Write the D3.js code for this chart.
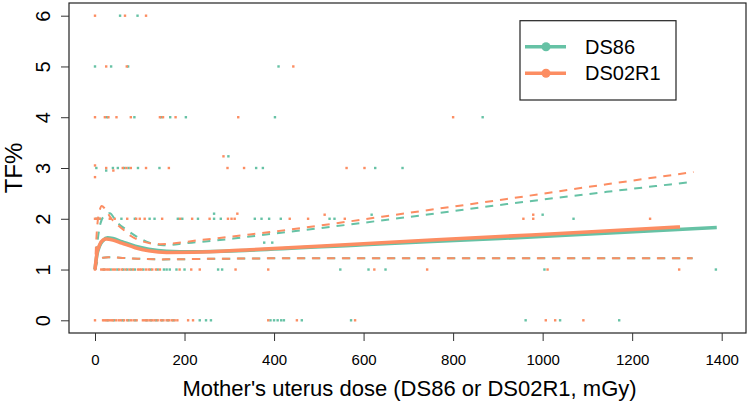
<!DOCTYPE html>
<html>
<head>
<meta charset="utf-8">
<script src="https://cdn.jsdelivr.net/npm/d3@7"></script>
<style>
  body { margin: 0; background: #fff; }
  text { font-family: "Liberation Sans", Arial, sans-serif; fill: #000; }
</style>
</head>
<body>
<svg width="749" height="403"></svg>
<script>
const seriesNames = ['DS86', 'DS02R1'];
const seriesColors = ['#66c2a5', '#fc8d62'];
const xTicks = [0, 200, 400, 600, 800, 1000, 1200, 1400];
const yTicks = [0, 1, 2, 3, 4, 5, 6];

// observed points [dose mGy, TF%]
const ds86Points = [
  [56, 6], [95, 6],
  [0, 5], [36, 5], [74, 5], [410, 5],
  [27, 4], [88, 4], [148, 4], [168, 4], [203, 4], [402, 4], [866, 4],
  [3, 3], [25, 2.95], [40, 3], [51, 3], [65, 3], [75, 3], [96, 3], [144, 3], [360, 3], [375, 3], [626, 3], [687, 3], [298, 3.23],
  [3, 2], [10, 2], [35, 2], [59, 2], [89, 2], [122, 2], [133, 2], [185, 2], [195, 2], [230, 2], [266, 2.1], [266, 2], [281, 2],
  [357, 2], [372, 2], [389, 2], [415, 2], [524, 2], [535, 2], [618, 2.08], [1000, 2.08], [1069, 2],
  [378, 1.53], [396, 1.53],
  [20, 1], [35, 1], [50, 1], [63, 1], [72, 1], [81, 1], [89, 1], [108, 1], [124, 1], [140, 1], [154, 1], [160, 1], [167, 1],
  [182, 1], [200, 1], [275, 1], [284, 1], [548, 1], [611, 1], [649, 1], [1004, 1], [1387, 1],
  [28, 0], [42, 0], [62, 0], [75, 0], [90, 0], [115, 0], [125, 0], [137, 0], [150, 0], [163, 0], [175, 0], [234, 0], [248, 0],
  [259, 0], [392, 0], [400, 0], [408, 0], [416, 0], [422, 0], [462, 0], [572, 0], [962, 0], [1039, 0], [1171, 0]
];
const ds02Points = [
  [0, 6], [67, 6], [114, 6],
  [25, 5], [71, 5], [443, 5],
  [0, 4], [22, 4], [30, 4], [48, 4], [80, 4], [145, 4], [152, 4], [180, 4], [320, 4], [800, 4],
  [0, 3.05], [0, 2.82], [25, 3], [41, 2.95], [62, 3], [70, 3], [80, 3], [114, 3], [165, 3], [296, 3], [333, 3], [562, 3], [602, 3], [287, 3.23],
  [0, 2], [5, 2], [12, 2], [33, 2], [44, 2], [72, 2], [92, 2], [100, 2], [111, 2], [150, 2], [190, 2], [217, 2], [256, 2], [297, 2],
  [305, 2], [312, 2], [318, 2.1], [435, 2], [476, 2], [513, 2.08], [558, 2], [957, 2], [979, 2.08], [979, 2], [1240, 2],
  [0, 1], [14, 1], [18, 1], [22, 1], [27, 1], [31, 1], [40, 1], [45, 1], [54, 1], [60, 1], [68, 1], [77, 1], [85, 1], [96, 1],
  [100, 1], [104, 1], [114, 1], [120, 1], [128, 1], [136, 1], [145, 1], [189, 1], [215, 1], [234, 1], [314, 1], [387, 1],
  [624, 1], [742, 1], [1011, 1], [1305, 1],
  [0, 0], [18, 0], [22, 0], [26, 0], [31, 0], [36, 0], [40, 0], [47, 0], [53, 0], [58, 0], [65, 0], [72, 0], [80, 0], [86, 0],
  [93, 0], [107, 0], [112, 0], [117, 0], [122, 0], [128, 0], [133, 0], [140, 0], [147, 0], [153, 0], [160, 0], [166, 0],
  [172, 0], [178, 0], [184, 0], [208, 0], [219, 0], [387, 0], [451, 0], [581, 0], [1007, 0], [1028, 0], [1091, 0]
];

// fitted curves and bands [dose, TF%]
const ds86Fit = [[0, 1.0], [4, 1.27], [10, 1.46], [18, 1.57], [28, 1.625], [40, 1.61], [60, 1.55], [90, 1.46], [120, 1.40],
  [160, 1.36], [220, 1.35], [346, 1.38], [600, 1.49], [905, 1.61], [1150, 1.72], [1389, 1.83]];
const ds02Fit = [[0, 1.0], [4, 1.3], [10, 1.48], [18, 1.58], [25, 1.60], [40, 1.58], [60, 1.52], [90, 1.43], [120, 1.37],
  [160, 1.335], [220, 1.34], [346, 1.39], [600, 1.51], [905, 1.65], [1100, 1.74], [1307, 1.84]];
const ds86Upper = [[0, 1.0], [5, 1.5], [12, 1.9], [20, 2.05], [33, 2.11], [48, 1.94], [71, 1.78], [93, 1.65], [115, 1.55],
  [153, 1.48], [205, 1.52], [309, 1.61], [346, 1.65], [562, 1.88], [696, 2.03], [920, 2.29], [1143, 2.53], [1337, 2.73]];
const ds02Upper = [[0, 1.0], [3, 1.6], [6, 1.95], [10, 2.15], [15, 2.25], [22, 2.2], [35, 2.02], [60, 1.81], [82, 1.65],
  [108, 1.55], [145, 1.50], [235, 1.58], [346, 1.69], [562, 1.94], [696, 2.11], [920, 2.39], [1143, 2.68], [1337, 2.92]];
const ds86Lower = [[0, 1.0], [5, 1.15], [11, 1.22], [30, 1.24], [80, 1.22], [150, 1.20], [250, 1.21], [400, 1.22], [1335, 1.22]];
const ds02Lower = [[0, 1.0], [4, 1.16], [10, 1.22], [30, 1.24], [80, 1.22], [150, 1.20], [250, 1.21], [400, 1.22], [1335, 1.22]];

const svg = d3.select('svg');

const x = d3.scaleLinear().domain([0, 1400]).range([95, 721.7]);
const y = d3.scaleLinear().domain([0, 6]).range([320.3, 15.7]);

const box = { left: 69, top: 3, right: 746, bottom: 333 };

// points
const pointSets = [ds86Points, ds02Points];
pointSets.forEach((pts, i) => {
  svg.append('g').selectAll('rect')
    .data(pts)
    .join('rect')
    .attr('x', d => x(d[0]) - 1.2)
    .attr('y', d => y(d[1]) - 1.2)
    .attr('width', 2.4)
    .attr('height', 2.4)
    .attr('fill', seriesColors[i]);
});

// curves
const line = d3.line().x(d => x(d[0])).y(d => y(d[1])).curve(d3.curveMonotoneX);
const curves = [
  [ds86Upper, 0, true], [ds86Lower, 0, true], [ds86Fit, 0, false],
  [ds02Upper, 1, true], [ds02Lower, 1, true], [ds02Fit, 1, false]
];
curves.forEach(([data, i, dashed]) => {
  svg.append('path')
    .attr('d', line(data))
    .attr('fill', 'none')
    .attr('stroke', seriesColors[i])
    .attr('stroke-width', dashed ? 2 : 3.5)
    .attr('stroke-dasharray', dashed ? '8,7' : null);
});

// box
svg.append('rect')
  .attr('x', box.left).attr('y', box.top)
  .attr('width', box.right - box.left).attr('height', box.bottom - box.top)
  .attr('fill', 'none').attr('stroke', '#222').attr('stroke-width', 1.2);

// axes
const xAxis = svg.append('g')
  .attr('transform', `translate(0,${box.bottom})`)
  .call(d3.axisBottom(x).tickValues(xTicks).tickFormat(d3.format('d'))
    .tickSize(8).tickSizeOuter(0).tickPadding(13));
xAxis.select('.domain').remove();
xAxis.selectAll('line').attr('stroke', '#333');
xAxis.selectAll('text')
  .style('font-size', '15px')
  .style('font-family', '"Liberation Sans", Arial, sans-serif');

const yAxis = svg.append('g')
  .attr('transform', `translate(${box.left},0)`)
  .call(d3.axisLeft(y).tickValues(yTicks).tickFormat(d3.format('d'))
    .tickSize(8).tickSizeOuter(0));
yAxis.select('.domain').remove();
yAxis.selectAll('line').attr('stroke', '#333');
yAxis.selectAll('text')
  .attr('transform', 'rotate(-90)')
  .attr('x', 0).attr('y', -19).attr('dy', 0)
  .attr('text-anchor', 'middle')
  .style('font-size', '20px')
  .style('font-family', '"Liberation Sans", Arial, sans-serif');

// titles
svg.append('text')
  .attr('x', (box.left + box.right) / 2 + 2)
  .attr('y', 396)
  .attr('text-anchor', 'middle')
  .style('font-size', '22px')
  .text("Mother's uterus dose (DS86 or DS02R1, mGy)");

svg.append('text')
  .attr('transform', `translate(22,${(box.top + box.bottom) / 2}) rotate(-90)`)
  .attr('text-anchor', 'middle')
  .style('font-size', '24px')
  .text('TF%');

// legend
const legend = svg.append('g');
legend.append('rect')
  .attr('x', 520).attr('y', 20.7).attr('width', 156).attr('height', 79.3)
  .attr('fill', '#fff').attr('stroke', '#222').attr('stroke-width', 1.2);
seriesNames.forEach((name, i) => {
  const ly = 46.7 + i * 26.6;
  legend.append('line')
    .attr('x1', 525).attr('x2', 566).attr('y1', ly).attr('y2', ly)
    .attr('stroke', seriesColors[i]).attr('stroke-width', 3.5);
  legend.append('circle')
    .attr('cx', 546).attr('cy', ly).attr('r', 4.5)
    .attr('fill', seriesColors[i]);
  legend.append('text')
    .attr('x', 585).attr('y', ly + 7)
    .style('font-size', '20px')
    .text(name);
});
</script>
</body>
</html>
